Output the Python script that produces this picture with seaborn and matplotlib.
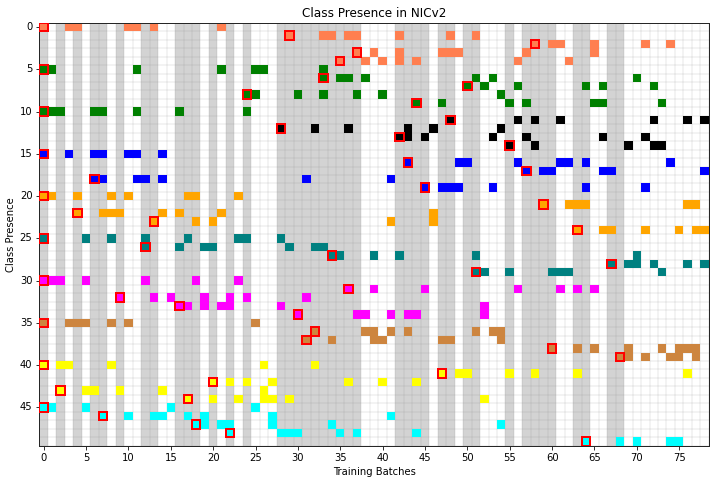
import numpy as np
import seaborn as sns
import matplotlib.pyplot as plt
from matplotlib.colors import ListedColormap
from matplotlib.patches import Rectangle

n_batches = 79

# batches where each class is present, grouped by category colour (rows top to bottom)
coral_rows = [
    [0, 3, 4, 10, 11, 13, 21],
    [29, 33, 34, 36, 37, 42, 48, 51],
    [58, 60, 61, 65, 71, 74],
    [37, 39, 42, 47, 48, 49, 57, 65],
    [35, 38, 40, 42, 44, 56, 62],
]
green_rows = [
    [0, 1, 11, 21, 25, 26, 33],
    [33, 35, 36, 38, 51, 53, 70],
    [50, 52, 56, 64, 66, 72],
    [24, 25, 30, 33, 37, 40, 54],
    [44, 47, 55, 57, 65, 66, 73],
    [0, 1, 2, 6, 7, 11, 16, 24],
]
black_rows = [
    [48, 56, 58, 61, 72, 76, 78],
    [28, 32, 36, 43, 46, 54],
    [42, 43, 45, 53, 57, 66, 71],
    [55, 58, 69, 72, 73],
]
blue_rows = [
    [0, 3, 6, 7, 10, 11, 14],
    [43, 49, 50, 56, 61, 62, 64, 74],
    [57, 59, 60, 66, 67, 78],
    [6, 7, 11, 12, 14, 31, 41],
    [45, 47, 48, 49, 53, 64, 71],
]
orange_rows = [
    [0, 1, 4, 8, 10, 17, 18, 23],
    [59, 62, 63, 64, 76, 77],
    [4, 7, 8, 9, 14, 16, 21, 46],
    [13, 18, 20, 41, 46],
    [63, 66, 67, 71, 75, 77, 78],
]
teal_rows = [
    [0, 5, 8, 12, 17, 23, 24, 28],
    [12, 16, 19, 20, 29, 32, 33],
    [34, 35, 39, 42, 51, 70],
    [67, 69, 70, 72, 76, 78],
    [51, 52, 55, 60, 61, 62, 73],
]
magenta_rows = [
    [0, 1, 2, 5, 12, 18, 23],
    [36, 39, 45, 56, 61, 63, 65],
    [9, 13, 15, 19, 22, 24, 31],
    [16, 17, 19, 21, 22, 28, 52],
    [30, 37, 38, 41, 43, 44, 52],
]
peru_rows = [
    [0, 3, 4, 5, 8, 10, 25],
    [32, 38, 39, 41, 43, 51, 53, 54],
    [31, 34, 39, 40, 47, 48, 54],
    [60, 63, 65, 69, 73, 75, 76, 77],
    [68, 69, 71, 74, 75, 77],
]
yellow_rows = [
    [0, 2, 3, 8, 26, 32],
    [47, 49, 50, 55, 58, 63, 76],
    [20, 22, 24, 27, 36, 40, 44],
    [2, 5, 6, 9, 14, 26],
    [17, 20, 23, 26, 27, 29, 52],
]
cyan_rows = [
    [0, 1, 5, 15, 25],
    [7, 10, 13, 14, 17, 19, 27, 41],
    [18, 19, 21, 22, 27, 34, 54],
    [22, 28, 29, 30, 35, 37, 44],
    [64, 68, 70, 74, 75],
]

groups = [coral_rows, green_rows, black_rows, blue_rows, orange_rows,
          teal_rows, magenta_rows, peru_rows, yellow_rows, cyan_rows]
colors = ["coral", "green", "black", "blue", "orange",
          "teal", "magenta", "peru", "yellow", "cyan"]

# batches drawn with grey background
shaded_batches = [0, 2, 4, 6, 7, 9, 12, 13, 16, 17, 18, 20, 22, 24,
                  28, 29, 30, 31, 32, 33, 34, 35, 36, 37,
                  42, 43, 44, 45, 47, 48, 50, 51, 55, 57, 58, 59, 60,
                  63, 64, 67, 68]

rows = []
row_cat = []
for k, g in enumerate(groups):
    for r in g:
        rows.append(r)
        row_cat.append(k)

mat = np.full((len(rows), n_batches), np.nan)
for i, r in enumerate(rows):
    mat[i, r] = row_cat[i]

fig, ax = plt.subplots(figsize=(718 / 72, 483 / 72), dpi=72)
fig.subplots_adjust(left=0.055, right=0.9872, bottom=0.0776, top=0.9528)

for b in shaded_batches:
    ax.axvspan(b, b + 1, color="lightgray", lw=0, zorder=0)

sns.heatmap(mat, cmap=ListedColormap(colors), vmin=-0.5, vmax=9.5,
            cbar=False, ax=ax, zorder=2)

# first appearance of every class
for i, r in enumerate(rows):
    ax.add_patch(Rectangle((min(r), i), 1, 1, fill=False,
                           edgecolor="red", lw=2, zorder=3))

ax.set_xticks(np.arange(0, n_batches, 5) + 0.5)
ax.set_xticklabels([str(v) for v in range(0, n_batches, 5)], rotation=0)
ax.set_yticks(np.arange(0, len(rows), 5) + 0.5)
ax.set_yticklabels([str(v) for v in range(0, len(rows), 5)], rotation=0)
ax.set_xticks(np.arange(n_batches + 1), minor=True)
ax.set_yticks(np.arange(len(rows) + 1), minor=True)
ax.grid(which="minor", color="0.5", alpha=0.12, lw=1.5)
ax.tick_params(which="minor", length=0)
ax.tick_params(which="major", length=3.5, width=0.8)

for s in ax.spines.values():
    s.set_visible(True)
    s.set_color("0.15")
    s.set_linewidth(1)

ax.set_xlabel("Training Batches")
ax.set_ylabel("Class Presence")
ax.set_title("Class Presence in NICv2")

plt.savefig("out.png", dpi=72)
